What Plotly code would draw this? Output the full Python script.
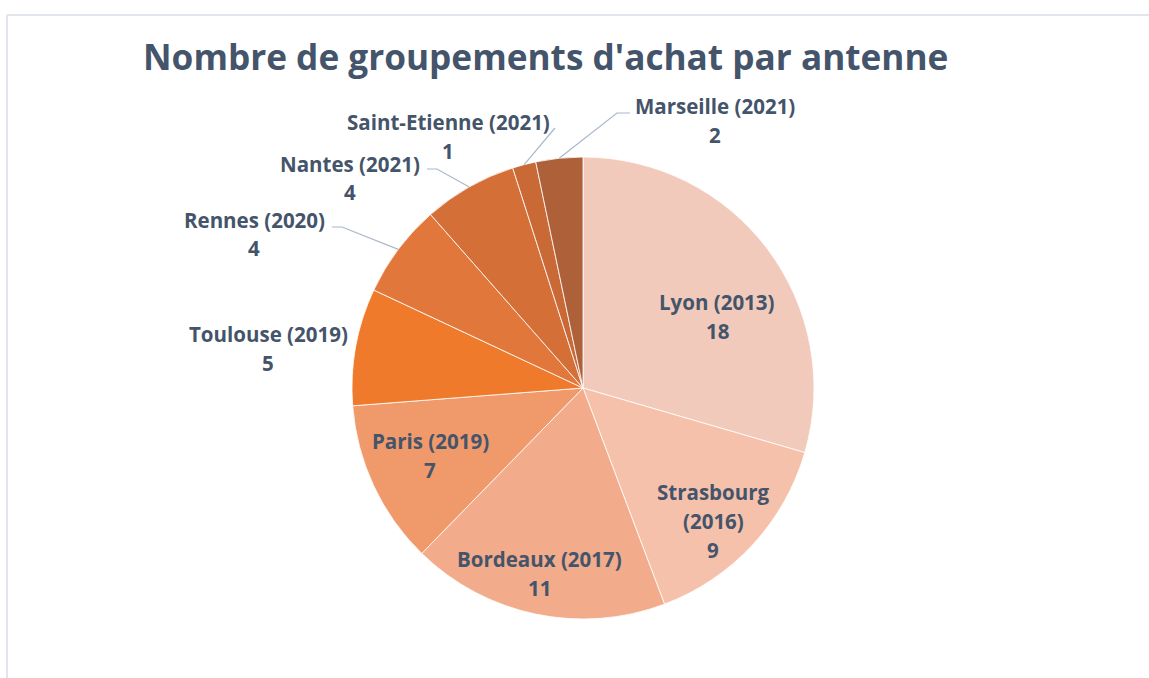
import math
import plotly.graph_objects as go

# ---- data ----
antennes = ["Lyon (2013)", "Strasbourg (2016)", "Bordeaux (2017)", "Paris (2019)",
            "Toulouse (2019)", "Rennes (2020)", "Nantes (2021)",
            "Saint-Etienne (2021)", "Marseille (2021)"]
groupements = [18, 9, 11, 7, 5, 4, 4, 1, 2]
title_text = "Nombre de groupements d'achat par antenne"

# ---- styles / layout ----
W, H = 1149, 678
colors = ["#F1CABB", "#F6C1AA", "#F2AB8B", "#F0996B", "#EF7A2B",
          "#E1773A", "#D56F38", "#C86936", "#AE6039"]
# label lines (display wrapping) and label centres in pixels
label_lines = [["Lyon (2013)"], ["Strasbourg", "(2016)"], ["Bordeaux (2017)"],
               ["Paris (2019)"], ["Toulouse (2019)"], ["Rennes (2020)"],
               ["Nantes (2021)"], ["Saint-Etienne (2021)"], ["Marseille (2021)"]]
label_pos = [(717, 316), (713, 521), (539, 573), (430, 455), (268, 348),
             (254, 234), (350, 178), (448, 137), (715, 120)]
# leader line start (label side) and elbow, None if no leader
leader_start = [None, None, None, None, None,
                ((332, 227), (342, 227)),
                ((427, 169), (437, 169)),
                ((555, 128), (555, 128)),
                ((630, 113), (617, 113))]
CX, CY, R = 583, 388, 231
LINE_H = 29
text_color = "#44546A"
FONT = "Open Sans"

def px(x):
    return x / W

def py(y):
    return 1 - y / H

fig = go.Figure(go.Pie(
    labels=antennes, values=groupements, sort=False, direction="clockwise",
    rotation=0, textinfo="none", showlegend=False,
    marker=dict(colors=colors, line=dict(color="white", width=0.8)),
    domain=dict(x=[px(CX - R), px(CX + R)], y=[py(CY + R), py(CY - R)]),
))

annotations = []
shapes = []
total = sum(groupements)
cum = 0
for i, v in enumerate(groupements):
    mid = (cum + v / 2) / total * 2 * math.pi
    cum += v
    lx, ly = label_pos[i]
    lines = list(label_lines[i]) + [str(v)]
    n = len(lines)
    for k, t in enumerate(lines):
        yy = ly + (k - (n - 1) / 2) * LINE_H
        annotations.append(dict(x=px(lx), y=py(yy), xref="paper", yref="paper",
                                text=t, showarrow=False, xanchor="center", yanchor="middle",
                                font=dict(family=FONT, size=20.5, color=text_color, weight="bold")))
    if leader_start[i] is not None:
        (sx, sy), (ex, ey) = leader_start[i]
        edx = CX + R * math.sin(mid)
        edy = CY - R * math.cos(mid)
        path = f"M {px(sx)} {py(sy)} L {px(ex)} {py(ey)} L {px(edx)} {py(edy)}"
        shapes.append(dict(type="path", xref="paper", yref="paper", path=path,
                           line=dict(color="#A9B8C9", width=1.2)))

# chart frame (top and left borders)
shapes.append(dict(type="line", xref="paper", yref="paper", x0=px(7), y0=py(15), x1=1, y1=py(15),
                   line=dict(color="#E1E6EC", width=2)))
shapes.append(dict(type="line", xref="paper", yref="paper", x0=px(7), y0=py(15), x1=px(7), y1=0,
                   line=dict(color="#E1E6EC", width=2)))

annotations.append(dict(x=px(545), y=py(56), xref="paper", yref="paper", text=title_text,
                        showarrow=False, xanchor="center", yanchor="middle",
                        font=dict(family=FONT, size=35.2, color=text_color, weight="bold")))

fig.update_layout(width=W, height=H, margin=dict(l=0, r=0, t=0, b=0),
                  paper_bgcolor="white", plot_bgcolor="white",
                  annotations=annotations, shapes=shapes)
fig.write_html("out.html")
